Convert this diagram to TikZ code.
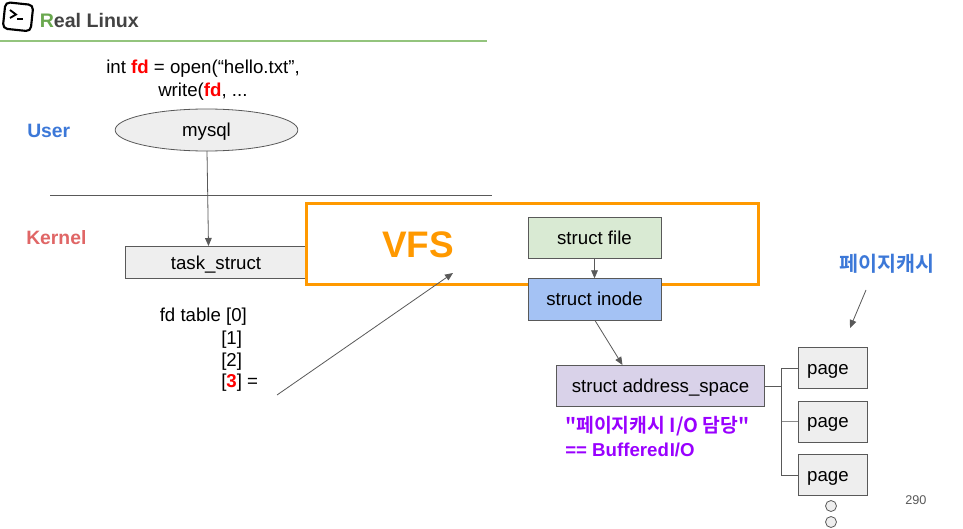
\documentclass[tikz,border=0pt]{standalone}
\usepackage{fontspec}
\setmainfont{Liberation Sans}
\newfontfamily\krfont{Noto Sans CJK KR}[BoldFont={* Bold}]
\usetikzlibrary{shapes.geometric,arrows.meta}
\definecolor{edge}{HTML}{595959}
\definecolor{fillgray}{HTML}{EEEEEE}
\definecolor{vfsorange}{HTML}{FF9900}
\definecolor{ublue}{HTML}{3C78D8}
\definecolor{kred}{HTML}{E06666}
\definecolor{linegreen}{HTML}{93C47D}
\definecolor{purp}{HTML}{9900FF}
\definecolor{rred}{HTML}{FF0000}
\definecolor{logogreen}{HTML}{6AA84F}
\definecolor{logogray}{HTML}{434343}
\definecolor{filegreen}{RGB}{217,234,211}
\definecolor{inodeblue}{RGB}{164,194,244}
\definecolor{addrpurple}{RGB}{217,210,233}
\tikzset{
  x=0.75pt,y=-0.75pt,
  box/.style={draw=edge,line width=0.75pt,inner sep=0pt,text height=12pt,text depth=3pt,font=\fontsize{14}{16}\selectfont},
  txt/.style={inner sep=0pt,font=\fontsize{14}{16}\selectfont,anchor=base west},
  conn/.style={draw=edge,line width=0.6pt,-{Triangle[length=6pt,width=5pt]}},
  tree/.style={draw=edge,line width=0.75pt},
  dot/.style={circle,draw=edge,fill=fillgray,line width=0.6pt,minimum size=8.25pt,inner sep=0pt},
}
\begin{document}
\begin{tikzpicture}
\useasboundingbox (0,0) rectangle (963,528);
\fill[white] (0,0) rectangle (963,528);
% logo
\draw[black,line width=1.6pt,rounded corners=3.5pt,rotate around={-6:(18,17)}] (4,3.5) rectangle (32,30);
\draw[black,line width=1.4pt] (10,10) -- (16,14.5) -- (10,18);
\draw[black,line width=1.4pt] (17,19) -- (23,19);
\node[inner sep=0pt,anchor=base west,font=\fontsize{14.7}{16}\selectfont\bfseries] (title) at (39.5,28) {\textcolor{logogreen}{R}\textcolor{logogray}{eal Linux}};
\coordinate (hl1) at (0,41); \coordinate (hl2) at (487,41);
\draw[linegreen,line width=1.1pt] (hl1) -- (hl2);
% code
\node[txt] (code1) at (106,73.7) {int \textcolor{rred}{\textbf{fd}} = open(“hello.txt”,};
\node[txt] (code2) at (158,96) {write(\textcolor{rred}{\textbf{fd}}, ...};
\node[txt,font=\fontsize{14.5}{16}\selectfont\bfseries,text=ublue] (user) at (27,137) {User};
\node[txt,font=\fontsize{14.5}{16}\selectfont\bfseries,text=kred] (kernel) at (26,244) {Kernel};
% separator
\coordinate (s1) at (50,195.5); \coordinate (s2) at (492,195.5);
\draw[edge,line width=0.6pt] (s1) -- (s2);
% mysql
\node[ellipse,draw=edge,fill=fillgray,line width=0.6pt,minimum width=137pt,minimum height=31.5pt,inner sep=0pt,text height=12pt,text depth=3pt,font=\fontsize{14}{16}\selectfont] (mysql) at (206.5,130) {mysql};
% task_struct
\node[box,fill=fillgray,minimum width=135.75pt,minimum height=24pt,text height=13pt] (task) at (216,262.5) {task\_struct};
% VFS
\node[draw=vfsorange,line width=2pt,minimum width=339pt,minimum height=60.5pt,inner sep=0pt] (vfs) at (532.5,244) {};
\node[inner sep=0pt,anchor=base west,font=\fontsize{27.7}{32}\selectfont\bfseries,text=vfsorange] (vfslabel) at (382,257) {VFS};
% file / inode
\node[box,fill=filegreen,minimum width=99.75pt,minimum height=30.5pt] (file) at (594.5,238) {struct file};
\node[box,fill=inodeblue,minimum width=99.75pt,minimum height=31pt] (inode) at (594.5,299.5) {struct inode};
\draw[conn] (file) -- (inode);
% address space
\node[box,fill=addrpurple,minimum width=156pt,minimum height=30.5pt] (addr) at (660.5,386) {struct address\_space};
\coordinate (i0) at (595,320.5); \coordinate (a2) at (622.5,365);
\draw[conn] (i0) -- (a2);
% pages
\node[box,fill=fillgray,minimum width=51.75pt,minimum height=30.75pt] (p1) at (832.5,368) {page\hspace{6.8pt}\mbox{}};
\node[box,fill=fillgray,minimum width=51.75pt,minimum height=30.75pt] (p2) at (832.5,421.5) {page\hspace{6.8pt}\mbox{}};
\node[box,fill=fillgray,minimum width=51.75pt,minimum height=30.75pt] (p3) at (832.5,475) {page\hspace{6.8pt}\mbox{}};
\coordinate (tr) at (781.5,386);
\draw[tree] (addr.east) -- (tr) |- (p1.west);
\draw[tree] (tr) |- (p3.west);
\draw[tree,draw=edge!70] (tr |- p2.west) -- (p2.west);
\node[dot] (d1) at (831,506) {};
\node[dot] (d2) at (831,522) {};
\node[inner sep=0pt,anchor=base west,font=\fontsize{9.5}{11}\selectfont,text=edge] (num) at (905,504) {290};
% fd table
\node[txt] (fd0) at (159.5,321) {fd table [0]};
\node[txt] (fd1) at (221,344) {[1]};
\node[txt] (fd2) at (221,366) {[2]};
\node[txt] (fd3) at (221,387) {[\textcolor{rred}{\textbf{3}}] =};
\coordinate (a0) at (277,395); \coordinate (a1) at (453,273);
\draw[conn] (a0) -- (a1);
% arrow mysql -> task
\coordinate (m0) at (207,151); \coordinate (t0) at (208.5,246);
\draw[conn] (m0) -- (t0);
% labels
\node[txt,font=\krfont\fontsize{14.5}{16}\selectfont\bfseries,text=purp] (io) at (565,432) {"페이지캐시 I/O 담당"};
\node[txt,font=\fontsize{14}{16}\selectfont\bfseries,text=purp] (buf) at (565,456.5) {== Buffered\hspace{0.6pt}I/O};
\node[txt,font=\krfont\fontsize{15.5}{18}\selectfont\bfseries,text=ublue] (pc) at (839,271.5) {페이지캐시};
\coordinate (b0) at (866,290); \coordinate (b1) at (850,328);
\draw[conn] (b0) -- (b1);
\end{tikzpicture}
\end{document}
